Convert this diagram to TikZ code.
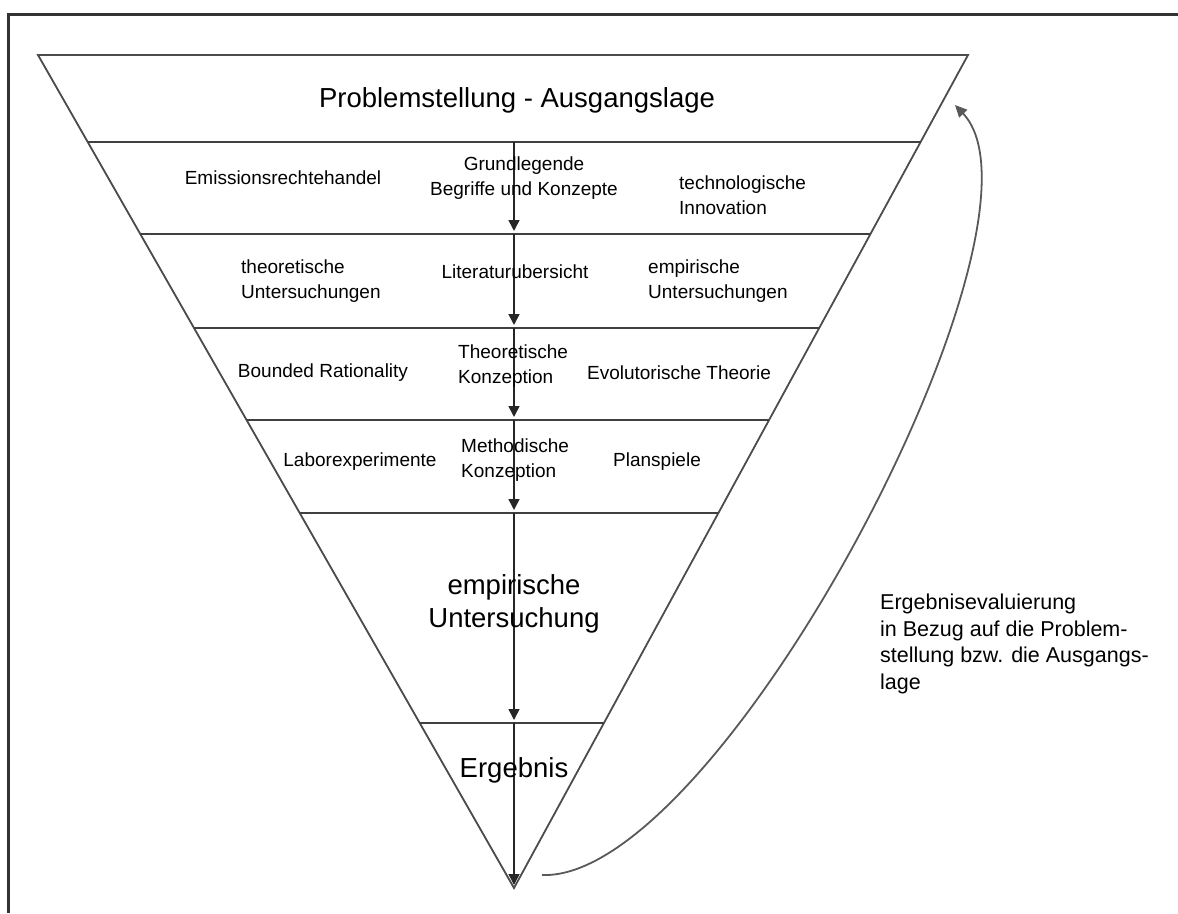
\documentclass[tikz,border=0pt]{standalone}
\usepackage{fontspec}
\setmainfont{Liberation Sans}
\usetikzlibrary{calc, arrows.meta}

\tikzset{
  lbl/.style={font=\fontsize{19}{25.5}\selectfont, inner sep=0pt},
  heading/.style={font=\fontsize{27.5}{33}\selectfont, inner sep=0pt},
  note/.style={font=\fontsize{21.5}{26.5}\selectfont, inner sep=0pt, align=left},
  edge/.style={line width=1.8pt, black!70},
  band/.style={line width=2.4pt, black!75},
  arr/.style={-{Triangle[length=11pt,width=11pt]}, shorten >=3pt, line width=1.6pt, black!85},
}

\begin{document}
\begin{tikzpicture}[x=1pt, y=-1pt]

\useasboundingbox (0,0) rectangle (1178,913);

% frame
\draw[line width=3pt, black!80] (8,913) -- (8,14) -- (1178,14);

% funnel
\coordinate (t1) at (38,55);
\coordinate (t2) at (968,55);
\coordinate (t3) at (514,888);

\draw[edge] (t1) -- (t2) -- (t3) -- cycle;

\coordinate (l1) at ($(t1)!0.1044!(t3)$);
\coordinate (r1) at ($(t2)!0.1044!(t3)$);
\coordinate (l2) at ($(t1)!0.2149!(t3)$);
\coordinate (r2) at ($(t2)!0.2149!(t3)$);
\coordinate (l3) at ($(t1)!0.3277!(t3)$);
\coordinate (r3) at ($(t2)!0.3277!(t3)$);
\coordinate (l4) at ($(t1)!0.4382!(t3)$);
\coordinate (r4) at ($(t2)!0.4382!(t3)$);
\coordinate (l5) at ($(t1)!0.5498!(t3)$);
\coordinate (r5) at ($(t2)!0.5498!(t3)$);
\coordinate (l6) at ($(t1)!0.8019!(t3)$);
\coordinate (r6) at ($(t2)!0.8019!(t3)$);

\draw[band] (l1) -- (r1);
\draw[band] (l2) -- (r2);
\draw[band] (l3) -- (r3);
\draw[band] (l4) -- (r4);
\draw[band] (l5) -- (r5);
\draw[band] (l6) -- (r6);

% middle axis
\coordinate (a0) at (514,142);
\coordinate (a1) at (514,234);
\coordinate (a2) at (514,328);
\coordinate (a3) at (514,420);
\coordinate (a4) at (514,513);
\coordinate (a5) at (514,723);

\draw[arr] (a0) -- (a1);
\draw[arr] (a1) -- (a2);
\draw[arr] (a2) -- (a3);
\draw[arr] (a3) -- (a4);
\draw[arr] (a4) -- (a5);
\draw[arr] (a5) -- (t3);

% texts
\node[heading] (problem) at (517,100) {Problemstellung - Ausgangslage};

\node[lbl] (emission) at (283,178) {Emissionsrechtehandel};
\node[lbl, align=center] (begriffe) at (524,178) {Grundlegende\\Begriffe und Konzepte};
\node[lbl, align=left, anchor=west] (innov) at (679,195) {technologische\\Innovation};

\node[lbl, align=left, anchor=west] (theount) at (241,281) {theoretische\\Untersuchungen};
\node[lbl] (literatur) at (515,272) {Literaturubersicht};
\node[lbl, align=left, anchor=west] (empunt) at (648,281) {empirische\\Untersuchungen};

\node[lbl] (bounded) at (323,373) {Bounded Rationality};
\node[lbl, align=left, anchor=west] (theokon) at (458,366) {Theoretische\\Konzeption};
\node[lbl] (evol) at (679,373) {Evolutorische Theorie};

\node[lbl] (labor) at (360,462) {Laborexperimente};
\node[lbl, align=left, anchor=west] (methkon) at (461,460) {Methodische\\Konzeption};
\node[lbl] (plan) at (657,462) {Planspiele};

\node[heading, align=center] (empirie) at (514,604) {empirische\\Untersuchung};
\node[heading] (ergebnis) at (514,770) {Ergebnis};

\node[note, anchor=west] (eval) at (880,644) {Ergebnisevaluierung\\in Bezug auf die Problem-\\stellung bzw. die Ausgangs-\\lage};

% feedback
\coordinate (fb1) at (542,875);
\coordinate (fb2) at (955,105);
\draw[line width=1.8pt, black!65, -{Triangle[length=12pt,width=11pt]}] (fb1) .. controls (720,882) and (1066,222) .. (fb2);

\end{tikzpicture}
\end{document}
